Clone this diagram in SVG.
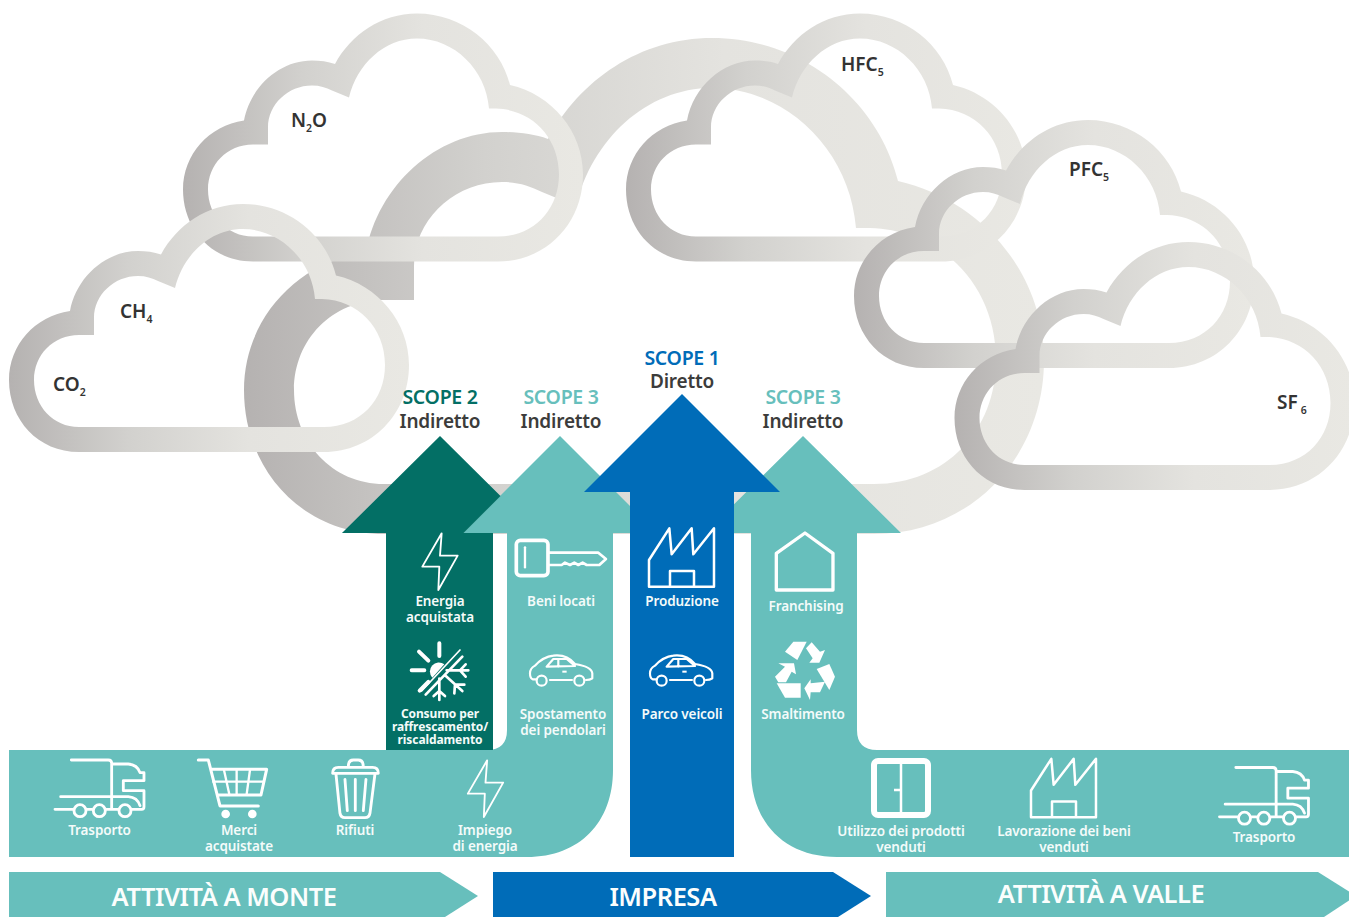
<svg xmlns="http://www.w3.org/2000/svg" width="1349" height="917" viewBox="0 0 1349 917">
<style>
text{font-family:"Noto Sans","Open Sans","Liberation Sans",sans-serif}
.cl{font-size:19px;font-weight:600;fill:#333333}
.sub{font-size:10.5px}
.sc{font-size:19.5px;font-weight:600;text-anchor:middle;letter-spacing:-.3px}
.ind{font-size:19px;font-weight:600;text-anchor:middle;fill:#3c3c3b;letter-spacing:-.2px}
.w{font-size:13.5px;font-weight:600;fill:#f4fbfa;text-anchor:middle;letter-spacing:-.1px}
.ws{font-size:12px;font-weight:700;fill:#f4fbfa;text-anchor:middle;letter-spacing:-.1px}
.big{font-size:25.5px;font-weight:600;fill:#fbfefd;text-anchor:middle;letter-spacing:-.5px}
.ic{fill:none;stroke:#ffffff;stroke-width:8.500;stroke-linecap:round;stroke-linejoin:round}
.thin{stroke-width:5.500}
.teal{fill:#67bfbc}.dark{fill:#036f65}.blue{fill:#006cb8}
</style>
<defs>
<linearGradient id="g"><stop offset="0" stop-color="#b5b2b1"/><stop offset=".3" stop-color="#d2d1ce"/><stop offset=".6" stop-color="#e4e3df"/><stop offset="1" stop-color="#e9e8e3"/></linearGradient>
<path id="cloud" fill="url(#g)" fill-rule="evenodd" d="M79 452C38 452 9 420 9 380C9 345 35 316 70 311C76 278 105 251 138 251C146 251 154 252 161 254.500C177 225 207 204 243 204C288 204 326 235 336 275.500C378 285 409 322 409 365C409 414 372 452 324 452ZM79 427C53 427 34 406 34 380C34 355 53 335 79 335L94 335L94 318C94 295 114 276 138 276C146 276 152 278 158 281L175 288C183 255 210 229 243 229C280 229 312 260 315 299L322 299C358 300 385 328 385 365C385 400 360 427 324 427Z"/>
<g id="truck" transform="translate(0,740) scale(.3333)"><path class="ic" d="M214 60H325Q335 60 335 70V205M335 72H385Q412 74 420 98H432V122H370V152H432V200Q432 208 425 208H395M182 170H385Q412 172 420 197M165 208H218M262 208H276M320 208H355"/><circle class="ic" cx="240" cy="212" r="18"/><circle class="ic" cx="298" cy="212" r="18"/><circle class="ic" cx="375" cy="212" r="18"/></g>
<g id="car"><path class="ic" style="stroke-width:6.500" d="M590 508H578Q570 505 570 490Q570 475 585 467Q610 440 640 437Q680 432 705 462Q755 470 757 490V505Q750 510 738 510M696 510H630M620 470L640 447H680L705 468ZM655 447V470"/><circle class="ic" style="stroke-width:6.500" cx="605" cy="512" r="15"/><circle class="ic" style="stroke-width:6.500" cx="718" cy="512" r="15"/><rect x="667" y="482" width="13" height="6" fill="#fff"/></g>
<g id="factory"><path class="ic" style="stroke-width:7.500" d="M57 150L118 55L125 133L185 55L190 133L252 55V230H57ZM120 228V183H192V228"/></g>
<path id="bolt" class="ic thin" d="M305 70L247 170H298L295 240L353 137H300Z"/>
</defs>

<g id="cloud-background"><use href="#cloud" transform="translate(226,-370) scale(2)"/></g>
<g id="cloud-n2o"><use href="#cloud" transform="translate(174,-190.500)"/><text class="cl" x="291" y="127">N<tspan class="sub" dy="5">2</tspan><tspan dy="-5">O</tspan></text></g>
<g id="cloud-co2-ch4"><use href="#cloud"/><text class="cl" x="120" y="318">CH<tspan class="sub" dy="5">4</tspan></text><text class="cl" x="53" y="391">CO<tspan class="sub" dy="5">2</tspan></text></g>
<g id="cloud-hfc"><use href="#cloud" transform="translate(617,-190.500)"/><text class="cl" x="841" y="71">HFC<tspan class="sub" dy="5">5</tspan></text></g>
<g id="cloud-pfc"><use href="#cloud" transform="translate(845,-84)"/><text class="cl" x="1069" y="176">PFC<tspan class="sub" dy="5">5</tspan></text></g>
<g id="cloud-sf6"><use href="#cloud" transform="translate(945.500,38)"/><text class="cl" x="1277" y="409">SF<tspan class="sub" dx="3" dy="5">6</tspan></text></g>

<g id="band-monte"><path class="teal" d="M9 750H487Q507 750 507 730V533H463L560 436L657 533H613V770C613 822 580 857 527 857H9Z"/></g>
<g id="band-valle"><path class="teal" d="M1349 750H877Q857 750 857 730V533H901L803 436L705 533H751V770C751 822 784 857 837 857H1349Z"/></g>
<g id="scope2-arrow"><path class="dark" d="M440 436L500.500 496L463.500 533H493V750H386V533H342Z"/></g>
<g id="scope1-arrow"><path class="blue" d="M682 394L780 492H734V857H630V492H584Z"/></g>

<g id="scope-labels">
<text class="sc" x="682" y="365" style="fill:#006cb8">SCOPE 1</text><text class="ind" x="682" y="387.500">Diretto</text>
<text class="sc" x="440" y="404" style="fill:#036f65">SCOPE 2</text><text class="ind" x="440" y="428">Indiretto</text>
<text class="sc" x="561" y="404" style="fill:#67bfbc">SCOPE 3</text><text class="ind" x="561" y="428">Indiretto</text>
<text class="sc" x="803" y="404" style="fill:#67bfbc">SCOPE 3</text><text class="ind" x="803" y="428">Indiretto</text>
</g>

<g id="energia"><use href="#bolt" transform="translate(340,510) scale(.3333)"/><text class="w" x="440" y="606">Energia</text><text class="w" x="440" y="622">acquistata</text></g>
<g id="consumo"><g transform="translate(405,636) scale(.3333)"><path class="ic" style="stroke-width:12" d="M103 22V60M42 47L70 74M20 103H58M44 164L70 138"/><path d="M82 125A27 27 0 0 1 118 85Z" fill="#fff"/><path class="ic" style="stroke-width:5" d="M50 165L165 42"/><path class="ic" style="stroke-width:8" d="M62 176L172 62M125 103H190M182 85L165 103L182 122M103 128V192M86 180L103 165L120 180M120 118L172 165M150 146H178M150 146L148 172"/></g><text class="ws" x="440" y="718">Consumo per</text><text class="ws" x="440" y="731">raffrescamento/</text><text class="ws" x="440" y="744">riscaldamento</text></g>
<g id="beni-locati"><g transform="translate(340,510) scale(.3333)"><rect class="ic" x="529" y="91" width="95" height="106" rx="12" style="stroke-width:11"/><path class="ic" d="M555 112V172" style="stroke-width:7"/><path class="ic" d="M628 128H775L798 147L778 165H740L728 158L715 165L703 158L690 165L675 158L665 165H628" style="stroke-width:8"/></g><text class="w" x="561" y="606">Beni locati</text></g>
<g id="spostamento"><use href="#car" transform="translate(340,510) scale(.3333)"/><text class="w" x="563" y="719">Spostamento</text><text class="w" x="563" y="735">dei pendolari</text></g>
<g id="produzione"><use href="#factory" transform="translate(630,510) scale(.3333)"/><text class="w" x="682" y="606">Produzione</text></g>
<g id="parco-veicoli"><use href="#car" transform="translate(460,510) scale(.3333)"/><text class="w" x="682" y="719">Parco veicoli</text></g>
<g id="franchising"><g transform="translate(630,510) scale(.3333)"><path class="ic" d="M525 69L609 130V240H439V130Z" style="stroke-width:10"/></g><text class="w" x="806" y="611">Franchising</text></g>
<g id="smaltimento"><g transform="translate(770,635) scale(.3333)" fill="#fff"><path d="M45 50L70 20H110L82 75Z"/><path d="M108 40L125 22L150 50L165 45L148 83H118L128 70Z"/><path d="M140 102L178 87L195 125L178 165Z"/><path d="M165 140L150 172H122L120 195L103 160L122 133V145Z"/><path d="M20 145H92V188H45Z"/><path d="M15 125L45 95L25 85H72L78 118L65 110L48 142H25Z"/></g><text class="w" x="803" y="719">Smaltimento</text></g>

<g id="trasporto-monte"><use href="#truck"/><text class="w" x="99.500" y="835">Trasporto</text></g>
<g id="merci"><g transform="translate(0,740) scale(.3333)"><path class="ic" style="stroke-width:9" d="M595 60H625L660 198H775M634 88H800L783 165H652"/><path class="ic" style="stroke-width:7" d="M640 125H792M672 90L688 163M710 90V163M750 90L740 163"/><circle cx="677" cy="222" r="13" fill="#fff"/><circle cx="757" cy="222" r="13" fill="#fff"/></g><text class="w" x="239" y="835">Merci</text><text class="w" x="239" y="851">acquistate</text></g>
<g id="rifiuti"><g transform="translate(0,740) scale(.3333)"><path class="ic" d="M998 100Q998 82 1015 82H1118Q1135 82 1135 100ZM1045 80Q1045 60 1060 60H1075Q1090 60 1090 80M1008 102L1020 220Q1022 233 1035 233H1095Q1108 233 1110 220L1125 102M1035 118L1042 212M1066 118V212M1098 118L1090 212"/></g><text class="w" x="355" y="835">Rifiuti</text></g>
<g id="impiego"><use href="#bolt" transform="translate(385.500,737) scale(.3333)"/><text class="w" x="485" y="835">Impiego</text><text class="w" x="485" y="851">di energia</text></g>
<g id="utilizzo"><rect x="874" y="761" width="54" height="54" rx="4" fill="none" stroke="#fff" stroke-width="6"/><path d="M901 763V814M894 790H901" fill="none" stroke="#fff" stroke-width="2.500"/><text class="w" x="901" y="836">Utilizzo dei prodotti</text><text class="w" x="901" y="852">venduti</text></g>
<g id="lavorazione"><use href="#factory" transform="translate(1012,740.500) scale(.3333)"/><text class="w" x="1064" y="836">Lavorazione dei beni</text><text class="w" x="1064" y="852">venduti</text></g>
<g id="trasporto-valle"><use href="#truck" transform="translate(1164.500,7.500)"/><text class="w" x="1264" y="842">Trasporto</text></g>

<g id="attivita-monte"><path class="teal" d="M9 872H440L478 896L445 917H9Z"/><text class="big" x="224" y="906">ATTIVITÀ A MONTE</text></g>
<g id="impresa"><path class="blue" d="M493 872H833L871 896L838 917H493Z"/><text class="big" x="663" y="906">IMPRESA</text></g>
<g id="attivita-valle"><path class="teal" d="M886 872H1318L1356 896L1324 917H886Z"/><text class="big" x="1101" y="903">ATTIVITÀ A VALLE</text></g>
</svg>
